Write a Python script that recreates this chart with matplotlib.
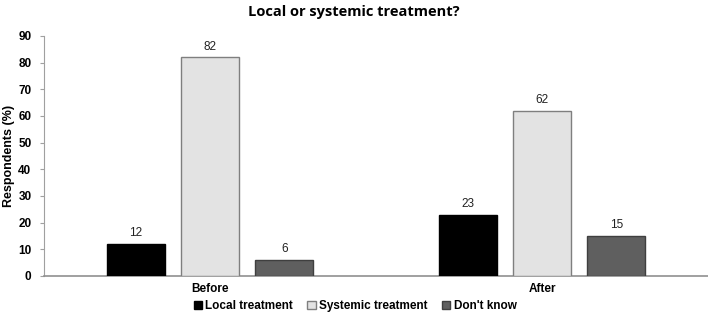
import matplotlib
matplotlib.use("Agg")
import matplotlib.pyplot as plt
import numpy as np

categories = ["Before", "After"]
series_names = ["Local treatment", "Systemic treatment", "Don't know"]
local_vals = [12, 23]
systemic_vals = [82, 62]
dontknow_vals = [6, 15]
yticks = [0, 10, 20, 30, 40, 50, 60, 70, 80, 90]

colors = ["#000000", "#e3e3e3", "#5f5f5f"]
edges = ["#000000", "#7f7f7f", "#3f3f3f"]

fig = plt.figure(figsize=(7.08, 3.14), dpi=100)
ax = fig.add_axes([44/708, 1 - 276/314, 664/708, 240/314])

x = np.arange(len(categories))
w = 0.175
step = 0.2236
for i, (vals, c, e, name) in enumerate(zip([local_vals, systemic_vals, dontknow_vals], colors, edges, series_names)):
    pos = x + (i - 1) * step
    bars = ax.bar(pos, vals, width=w, color=c, edgecolor=e, linewidth=1.0, label=name, zorder=3)
    for p, v in zip(pos, vals):
        ax.text(p, v + 1.8, str(v), ha="center", va="bottom", fontsize=8.5,
                family="Liberation Sans", color="#222222")

ax.set_xlim(-0.5, 1.5)
ax.set_ylim(0, 90)
ax.set_yticks(yticks)
ax.set_yticklabels([str(t) for t in yticks], fontsize=8.5, fontweight="bold", family="Liberation Sans")
ax.set_xticks(x)
ax.set_xticklabels(categories, fontsize=8.5, fontweight="bold", family="Liberation Sans")
ax.tick_params(axis="x", length=0, pad=5)
ax.tick_params(axis="y", length=3, color="#a0a0a0", pad=6)
for s in ["top", "right"]:
    ax.spines[s].set_visible(False)
ax.spines["left"].set_color("#a0a0a0")
ax.spines["bottom"].set_color("#909090")
ax.spines["bottom"].set_linewidth(1.2)

ax.set_ylabel("Respondents (%)", fontsize=9, fontweight="bold", family="Liberation Sans",
              va="center")
ax.yaxis.set_label_coords(-35/664, 0.5)
fig.text(0.5, 1 - 12/314, "Local or systemic treatment?", ha="center", va="center",
         fontsize=10.5, fontweight="bold", family="Open Sans")

leg = fig.legend(loc="center", bbox_to_anchor=(355/708, 1 - 306/314), ncol=3, frameon=False,
                 prop={"family": "Liberation Sans", "weight": "bold", "size": 8.5},
                 handlelength=0.7, handleheight=0.7, handletextpad=0.3, columnspacing=1.2)

fig.savefig("out.png", dpi=100)
